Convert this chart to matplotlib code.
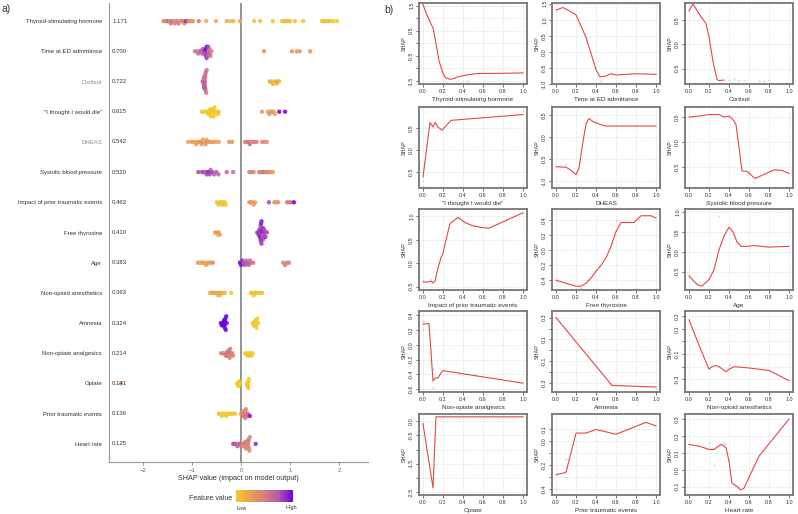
import numpy as np
import matplotlib
matplotlib.use('Agg')
import matplotlib.pyplot as plt
from matplotlib.colors import LinearSegmentedColormap

plt.rcParams['font.family'] = ['Liberation Sans', 'DejaVu Sans']

# ---------------- panel a: beeswarm data ----------------
features = ['Thyroid-stimulating hormone', 'Time at ED admittance', 'Cortisol',
            '"I thought I would die"', 'DHEAS', 'Systolic blood pressure',
            'Impact of prior traumatic events', 'Free thyroxine', 'Age',
            'Non-opioid anesthetics', 'Amnesia', 'Non-opiate analgesics',
            'Opiate', 'Prior traumatic events', 'Heart rate']
mean_abs = ['1.171', '0.700', '0.722', '0.615', '0.542', '0.520', '0.463', '0.410',
            '0.383', '0.363', '0.324', '0.214', '0.141', '0.136', '0.125']

shap_tsh = [-1.58, -1.55, -1.52, -1.49, -1.46, -1.43, -1.40, -1.37, -1.35, -1.32, -1.30,
            -1.27, -1.24, -1.21, -1.18, -1.15, -1.12, -1.09, -1.05, -1.01, -0.98, -0.86,
            -0.71, -0.51, -0.29, -0.22, -0.16, -0.02, 0.27, 0.39, 0.65, 0.84, 0.88, 0.92,
            0.96, 1.00, 1.10, 1.27, 1.65, 1.69, 1.73, 1.77, 1.81, 1.88, 1.96]
fv_tsh = [0.35, 0.5, 0.3, 0.75, 0.4, 0.55, 0.7, 0.35, 0.5, 0.3, 0.45, 0.55, 0.4, 0.35,
          0.5, 0.45, 0.95, 0.6, 0.4, 0.3, 0.35, 0.55, 0.15, 0.2, 0.2, 0.1, 0.15, 0.2, 0.1,
          0.1, 0.05, 0.1, 0.05, 0.1, 0.05, 0.1, 0.05, 0.05, 0.05, 0.1, 0.05, 0.05, 0.1,
          0.05, 0.05]

shap_ted = [-0.94, -0.90, -0.87, -0.84, -0.82, -0.80, -0.78, -0.77, -0.75, -0.74, -0.73,
            -0.72, -0.71, -0.70, -0.70, -0.69, -0.69, -0.68, -0.68, -0.67, -0.66, -0.65,
            -0.64, -0.62, -0.60, 0.47, 1.04, 1.14, 1.20, 1.41]
fv_ted = [0.6, 0.55, 0.65, 0.6, 0.7, 0.55, 0.75, 0.6, 0.8, 0.9, 0.7, 0.95, 0.9, 0.95,
          0.85, 0.95, 0.8, 0.9, 0.7, 0.85, 0.6, 0.7, 0.55, 0.6, 0.5, 0.35, 0.3, 0.35,
          0.3, 0.35]

shap_cort = [-0.78, -0.77, -0.76, -0.76, -0.75, -0.75, -0.75, -0.74, -0.74, -0.74, -0.74,
             -0.73, -0.73, -0.73, -0.72, -0.72, -0.71, -0.70, 0.59, 0.62, 0.65, 0.68,
             0.70, 0.72, 0.75, 0.78]
fv_cort = [0.55, 0.6, 0.7, 0.55, 0.8, 0.6, 0.65, 0.85, 0.6, 0.55, 0.7, 0.6, 0.75, 0.55,
           0.6, 0.65, 0.55, 0.6, 0.3, 0.1, 0.2, 0.05, 0.1, 0.05, 0.3, 0.1]

shap_die = [-0.80, -0.76, -0.72, -0.69, -0.67, -0.65, -0.64, -0.63, -0.62, -0.61, -0.60,
            -0.60, -0.59, -0.58, -0.57, -0.56, -0.55, -0.54, -0.52, -0.50, -0.47, -0.45,
            0.43, 0.55, 0.58, 0.61, 0.64, 0.67, 0.69, 0.78, 0.90]
fv_die = [0.05, 0.02, 0.05, 0.0, 0.05, 0.02, 0.0, 0.05, 0.0, 0.02, 0.0, 0.05, 0.0, 0.02,
          0.0, 0.05, 0.0, 0.02, 0.05, 0.0, 0.05, 0.02, 0.3, 0.3, 0.35, 0.25, 0.3, 0.2,
          0.3, 1.0, 1.0]

shap_dheas = [-1.08, -1.02, -0.98, -0.94, -0.91, -0.88, -0.85, -0.82, -0.80, -0.78, -0.76,
              -0.74, -0.72, -0.70, -0.67, -0.64, -0.60, -0.56, -0.50, -0.45, -0.24, -0.18,
              0.08, 0.12, 0.15, 0.18, 0.20, 0.24, 0.28, 0.32, 0.43, 0.48, 0.53]
fv_dheas = [0.2, 0.15, 0.3, 0.2, 0.35, 0.25, 0.2, 0.4, 0.3, 0.2, 0.35, 0.25, 0.3, 0.2,
            0.35, 0.25, 0.2, 0.3, 0.25, 0.2, 0.35, 0.3, 0.45, 0.5, 0.55, 0.65, 0.5, 0.4,
            0.55, 0.45, 0.4, 0.5, 0.35]

shap_sbp = [-0.87, -0.80, -0.76, -0.73, -0.70, -0.68, -0.66, -0.64, -0.62, -0.60, -0.58,
            -0.55, -0.50, -0.46, -0.29, -0.16, 0.17, 0.21, 0.26, 0.37, 0.41, 0.45, 0.49,
            0.52, 0.56, 0.60, 0.65]
fv_sbp = [0.8, 0.75, 0.85, 0.7, 0.8, 0.75, 0.9, 0.8, 0.7, 0.85, 0.75, 0.7, 0.75, 0.7,
          0.7, 0.65, 0.5, 0.55, 0.45, 0.55, 0.45, 0.6, 0.5, 0.4, 0.45, 0.35, 0.3]

shap_imp = [-0.49, -0.46, -0.43, -0.41, -0.39, -0.37, -0.35, -0.33, -0.31, 0.17, 0.20,
            0.23, 0.26, 0.29, 0.57, 0.68, 0.72, 0.76, 0.94, 0.98, 1.02, 1.08]
fv_imp = [0.05, 0.05, 0.0, 0.05, 0.05, 0.0, 0.05, 0.05, 0.0, 0.3, 0.35, 0.3, 0.25, 0.3,
          0.8, 0.35, 0.3, 0.35, 0.55, 0.5, 0.55, 1.0]

shap_ft4 = [-0.53, -0.50, -0.47, -0.45, -0.43, 0.33, 0.35, 0.36, 0.37, 0.38, 0.38, 0.39,
            0.39, 0.40, 0.40, 0.40, 0.41, 0.41, 0.42, 0.42, 0.43, 0.43, 0.44, 0.44, 0.45,
            0.45, 0.46, 0.47, 0.48, 0.50, 0.53]
fv_ft4 = [0.2, 0.25, 0.15, 0.3, 0.2, 0.75, 0.8, 0.85, 0.75, 0.9, 0.8, 0.85, 0.95, 0.8,
          0.9, 0.75, 0.85, 0.95, 0.8, 0.9, 0.85, 0.8, 0.9, 0.75, 0.85, 0.8, 0.9, 0.75,
          0.8, 0.85, 0.8]

shap_age = [-0.88, -0.84, -0.80, -0.77, -0.74, -0.71, -0.68, -0.65, -0.61, -0.57, -0.02,
            0.00, 0.02, 0.04, 0.06, 0.08, 0.10, 0.12, 0.14, 0.16, 0.18, 0.21, 0.25, 0.86,
            0.90, 0.94, 0.98]
fv_age = [0.3, 0.25, 0.2, 0.3, 0.15, 0.25, 0.3, 0.2, 0.3, 0.35, 1.0, 0.95, 0.85, 0.9,
          0.7, 0.8, 0.6, 0.75, 0.65, 0.7, 0.6, 0.65, 0.55, 0.5, 0.55, 0.5, 0.5]

shap_noa = [-0.63, -0.59, -0.56, -0.53, -0.50, -0.47, -0.45, -0.43, -0.40, -0.37, -0.33,
            -0.20, 0.20, 0.23, 0.26, 0.29, 0.32, 0.35, 0.39, 0.43]
fv_noa = [0.2, 0.1, 0.25, 0.15, 0.2, 0.1, 0.25, 0.15, 0.2, 0.1, 0.15, 0.05, 0.05, 0.05,
          0.0, 0.05, 0.05, 0.0, 0.05, 0.05]

shap_amn = [-0.41, -0.39, -0.37, -0.36, -0.35, -0.34, -0.34, -0.33, -0.33, -0.32, -0.31,
            -0.30, -0.29, 0.24, 0.26, 0.27, 0.28, 0.29, 0.30, 0.30, 0.31, 0.32, 0.33, 0.35]
fv_amn = [1.0, 1.0, 1.0, 1.0, 1.0, 1.0, 1.0, 1.0, 1.0, 1.0, 1.0, 1.0, 1.0,
          0.0, 0.0, 0.0, 0.0, 0.0, 0.0, 0.0, 0.0, 0.0, 0.0, 0.0]

shap_noan = [-0.41, -0.37, -0.34, -0.31, -0.29, -0.28, -0.27, -0.26, -0.25, -0.24, -0.23,
             -0.22, -0.21, -0.20, -0.18, -0.16, 0.08, 0.11, 0.13, 0.15, 0.17, 0.19, 0.21,
             0.24]
fv_noan = [0.4, 0.5, 0.45, 0.55, 0.5, 0.6, 0.45, 0.55, 0.5, 0.6, 0.45, 0.5, 0.55, 0.4,
           0.5, 0.45, 0.05, 0.0, 0.05, 0.0, 0.05, 0.0, 0.05, 0.0]

shap_opi = [-2.45, -0.08, -0.06, -0.05, -0.04, -0.03, -0.02, 0.12, 0.13, 0.14, 0.14,
            0.15, 0.15, 0.16]
fv_opi = [0.25, 0.05, 0.0, 0.05, 0.0, 0.05, 0.0, 0.0, 0.05, 0.0, 0.05, 0.0, 0.05, 0.0]

shap_pte = [-0.45, -0.42, -0.39, -0.36, -0.33, -0.30, -0.27, -0.24, -0.20, -0.16, -0.12,
            0.00, 0.02, 0.03, 0.04, 0.05, 0.06, 0.07, 0.08, 0.09, 0.10, 0.11, 0.12, 0.14,
            0.18]
fv_pte = [0.05, 0.0, 0.05, 0.05, 0.0, 0.05, 0.0, 0.05, 0.05, 0.0, 0.05, 0.35, 0.45,
          0.4, 0.5, 0.35, 0.45, 0.55, 0.4, 0.5, 0.45, 0.4, 0.5, 0.6, 0.95]

shap_hr = [-0.16, -0.13, -0.10, -0.07, -0.04, -0.02, 0.02, 0.04, 0.06, 0.08, 0.09, 0.10,
           0.11, 0.12, 0.13, 0.14, 0.15, 0.15, 0.16, 0.16, 0.17, 0.18, 0.30]
fv_hr = [0.7, 0.8, 0.65, 0.75, 0.6, 0.7, 0.5, 0.45, 0.55, 0.4, 0.5, 0.45, 0.55, 0.4,
         0.5, 0.45, 0.4, 0.5, 0.45, 0.55, 0.4, 0.45, 0.9]

shap_rows = [shap_tsh, shap_ted, shap_cort, shap_die, shap_dheas, shap_sbp, shap_imp,
             shap_ft4, shap_age, shap_noa, shap_amn, shap_noan, shap_opi, shap_pte, shap_hr]
fv_rows = [fv_tsh, fv_ted, fv_cort, fv_die, fv_dheas, fv_sbp, fv_imp, fv_ft4, fv_age,
           fv_noa, fv_amn, fv_noan, fv_opi, fv_pte, fv_hr]

# ---------------- panel b: dependence curves ----------------
dep_names = ['Thyroid-stimulating hormone', 'Time at ED admittance', 'Cortisol',
             '"I thought I would die"', 'DHEAS', 'Systolic blood pressure',
             'Impact of prior traumatic events', 'Free thyroxine', 'Age',
             'Non-opiate analgesics', 'Amnesia', 'Non-opioid anesthetics',
             'Opiate', 'Prior traumatic events', 'Heart rate']

x_tsh = [0.0, 0.03, 0.06, 0.1, 0.13, 0.16, 0.2, 0.23, 0.27, 0.31, 0.35, 0.45, 0.55, 0.7, 1.0]
y_tsh = [1.55, 1.2, 0.95, 0.6, 0.0, -0.7, -1.2, -1.38, -1.43, -1.4, -1.33, -1.25, -1.2, -1.2, -1.18]
x_ted = [0.0, 0.07, 0.13, 0.2, 0.25, 0.3, 0.35, 0.4, 0.44, 0.5, 0.55, 0.6, 0.8, 1.0]
y_ted = [1.3, 1.38, 1.28, 1.15, 0.8, 0.45, -0.05, -0.55, -0.78, -0.75, -0.68, -0.72, -0.68, -0.7]
x_cort = [0.0, 0.04, 0.1, 0.17, 0.2, 0.24, 0.28, 0.3, 0.35]
y_cort = [0.68, 0.82, 0.62, 0.42, 0.15, -0.35, -0.72, -0.74, -0.73]
x_die = [0.0, 0.07, 0.1, 0.12, 0.15, 0.19, 0.28, 1.0]
y_die = [-0.6, 0.62, 0.52, 0.62, 0.52, 0.45, 0.67, 0.8]
x_dheas = [0.0, 0.1, 0.15, 0.2, 0.23, 0.27, 0.3, 0.33, 0.37, 0.45, 0.5, 1.0]
y_dheas = [-0.67, -0.68, -0.75, -0.85, -0.7, -0.1, 0.3, 0.42, 0.35, 0.28, 0.25, 0.25]
x_sbp = [0.0, 0.1, 0.2, 0.3, 0.35, 0.4, 0.44, 0.47, 0.5, 0.53, 0.58, 0.62, 0.66, 0.75, 0.85, 0.93, 1.0]
y_sbp = [0.5, 0.52, 0.55, 0.55, 0.5, 0.52, 0.45, 0.35, -0.1, -0.57, -0.58, -0.65, -0.72, -0.64, -0.55, -0.56, -0.62]
x_imp = [0.0, 0.05, 0.08, 0.1, 0.12, 0.15, 0.18, 0.2, 0.23, 0.27, 0.35, 0.42, 0.5, 0.6, 0.66, 1.0]
y_imp = [-0.4, -0.4, -0.38, -0.42, -0.38, -0.1, 0.12, 0.22, 0.5, 0.85, 0.98, 0.87, 0.8, 0.76, 0.75, 1.08]
x_ft4 = [0.0, 0.1, 0.2, 0.25, 0.3, 0.35, 0.4, 0.45, 0.5, 0.55, 0.6, 0.65, 0.78, 0.85, 0.95, 1.0]
y_ft4 = [-0.4, -0.44, -0.48, -0.48, -0.44, -0.37, -0.28, -0.2, -0.1, 0.05, 0.25, 0.37, 0.37, 0.46, 0.46, 0.43]
x_age = [0.0, 0.05, 0.1, 0.13, 0.2, 0.25, 0.3, 0.35, 0.4, 0.44, 0.48, 0.52, 0.6, 0.65, 0.8, 1.0]
y_age = [-0.6, -0.75, -0.85, -0.86, -0.7, -0.45, 0.05, 0.4, 0.62, 0.5, 0.25, 0.14, 0.14, 0.16, 0.12, 0.14]
x_noan = [0.0, 0.06, 0.08, 0.1, 0.12, 0.15, 0.18, 0.2, 1.0]
y_noan = [0.28, 0.29, -0.1, -0.49, -0.45, -0.45, -0.38, -0.35, -0.52]
x_amn = [0.0, 0.56, 1.0]
y_amn = [0.3, -0.32, -0.335]
x_noa = [0.0, 0.1, 0.2, 0.23, 0.27, 0.3, 0.37, 0.4, 0.45, 0.6, 0.8, 1.0]
y_noa = [0.17, -0.03, -0.22, -0.2, -0.19, -0.2, -0.24, -0.22, -0.2, -0.21, -0.23, -0.31]
x_opi = [0.0, 0.1, 0.13, 1.0]
y_opi = [-0.1, -2.35, 0.15, 0.15]
x_pte = [0.0, 0.1, 0.2, 0.3, 0.4, 0.6, 0.9, 1.0]
y_pte = [-0.28, -0.26, 0.07, 0.07, 0.1, 0.06, 0.16, 0.13]
x_hr = [0.0, 0.1, 0.2, 0.25, 0.32, 0.35, 0.37, 0.4, 0.43, 0.48, 0.52, 0.55, 0.62, 0.7, 1.0]
y_hr = [0.15, 0.14, 0.12, 0.12, 0.15, 0.14, 0.13, 0.05, -0.08, -0.1, -0.12, -0.11, -0.02, 0.08, 0.3]

dep_x = [x_tsh, x_ted, x_cort, x_die, x_dheas, x_sbp, x_imp, x_ft4, x_age,
         x_noan, x_amn, x_noa, x_opi, x_pte, x_hr]
dep_y = [y_tsh, y_ted, y_cort, y_die, y_dheas, y_sbp, y_imp, y_ft4, y_age,
         y_noan, y_amn, y_noa, y_opi, y_pte, y_hr]

# faint observed points seen around the curves
pts_x = [[0.05, 0.2, 0.45], [0.3, 0.45], [0.4, 0.45, 0.5, 0.55, 0.7, 0.75, 0.8],
         [0.0, 0.0, 1.0], [0.1, 0.3], [0.6, 0.65], [0.0, 0.07], [0.25, 0.6], [0.3],
         [0.0, 0.0, 0.1, 0.1], [0.0, 1.0], [0.0, 0.4], [0.0],
         [0.0, 0.1, 0.1, 0.3], [0.2, 0.25, 0.35, 0.36]]
pts_y = [[0.9, -1.3, -1.5], [0.3, -0.9], [-0.72, -0.71, -0.72, -0.72, -0.74, -0.74, -0.73],
         [-0.7, -0.8, 0.88], [-0.6, 0.35], [-0.6, -0.8], [-0.35, -0.33], [-0.5, 0.4], [0.9],
         [0.22, 0.32, -0.58, -0.33], [0.3, -0.35], [0.15, -0.19], [-0.05],
         [-0.4, -0.3, -0.15, 0.08], [0.16, 0.03, 0.16, 0.15]]

dep_ylims = [(-1.62, 1.6), (-0.98, 1.52), (-0.81, 0.84), (-0.85, 0.97), (-1.15, 0.68),
             (-0.91, 0.7), (-0.57, 1.16), (-0.53, 0.55), (-0.96, 1.08), (-0.64, 0.46),
             (-0.38, 0.36), (-0.40, 0.24), (-2.6, 0.25), (-0.45, 0.23), (-0.15, 0.33)]
dep_yticks = [[-1.5, -1, -0.5, 0, 0.5, 1, 1.5], [-1, -0.5, 0, 0.5, 1, 1.5], [-0.5, 0, 0.5],
              [-0.5, 0, 0.5], [-1, -0.5, 0, 0.5], [-0.5, 0, 0.5], [-0.5, 0, 0.5, 1.0],
              [-0.4, -0.2, 0, 0.2, 0.4], [-0.5, 0, 0.5, 1.0],
              [-0.6, -0.4, -0.2, 0, 0.2, 0.4], [-0.3, -0.2, -0.1, 0, 0.1, 0.2, 0.3],
              [-0.3, -0.2, -0.1, 0, 0.1, 0.2], [-2.5, -2, -1.5, -1, -0.5, 0],
              [-0.4, -0.3, -0.2, -0.1, 0, 0.1], [-0.1, 0, 0.1, 0.2, 0.3]]
dep_ylabels = [['-1.5', '', '-0.5', '', '0.5', '', '1.5'],
               ['-1.0', '-0.5', '0.0', '0.5', '1.0', '1.5'],
               ['-0.5', '0.0', '0.5'], ['-0.5', '0.0', '0.5'],
               ['-1.0', '-0.5', '0.0', '0.5'], ['-0.5', '0.0', '0.5'],
               ['-0.5', '0.0', '0.5', '1.0'], ['-0.4', '-0.2', '0.0', '0.2', '0.4'],
               ['-0.5', '0.0', '0.5', '1.0'], ['-0.6', '-0.4', '-0.2', '0.0', '0.2', '0.4'],
               ['-0.3', '', '-0.1', '', '0.1', '', '0.3'],
               ['-0.3', '', '-0.1', '', '0.1', '0.2'],
               ['-2.5', '', '-1.5', '', '-0.5', '0.0'],
               ['-0.4', '', '-0.2', '', '0.0', '0.1'],
               ['-0.1', '0.0', '0.1', '0.2', '0.3']]

# ---------------- figure ----------------
fig = plt.figure(figsize=(7.98, 5.14), dpi=100)
W, H = 798.0, 514.0

cmap = LinearSegmentedColormap.from_list(
    'fv', ['#F3CB2C', '#E99E58', '#D8807C', '#B45AAE', '#6A00E0'])


def swarm(vals, bw=0.04, step=0.075):
    vals = np.asarray(vals)
    q = np.round(vals / bw)
    order = np.argsort(q, kind='stable')
    ys = np.zeros(len(vals))
    layer, last = 0, None
    for i in order:
        if q[i] != last:
            layer = 0
        ys[i] = np.ceil(layer / 2) * (1 if layer % 2 else -1)
        layer += 1
        last = q[i]
    return ys * step


ax = fig.add_axes([109 / W, 1 - 462 / H, (368 - 109) / W, (462 - 3) / H])
ax.axvline(0, color='#777777', lw=1.1, zorder=1)
for i, (sv, fv) in enumerate(zip(shap_rows, fv_rows)):
    off = swarm(sv)
    ax.scatter(sv, i + off, c=fv, cmap=cmap, vmin=0, vmax=1, s=10, lw=0,
               alpha=0.85, zorder=3)
    ax.text(0.012, i, mean_abs[i], transform=ax.get_yaxis_transform(),
            fontsize=4.3, color='#333333', va='center', ha='left')

ax.set_xlim(-2.69, 2.59)
ax.set_ylim(14.6, -0.6)
ax.set_yticks(range(len(features)))
ax.set_yticklabels(features, fontsize=4.3)
for lab, name in zip(ax.get_yticklabels(), features):
    lab.set_color('#8a8a8a' if name in ('Cortisol', 'DHEAS') else '#333333')
ax.tick_params(axis='y', length=0, pad=5)
ax.set_xticks([-2, -1, 0, 1, 2])
ax.set_xticklabels(['\u22122', '\u22121', '0', '1', '2'])
ax.tick_params(axis='x', labelsize=4.3, colors='#666666', length=2, width=0.5, pad=2)
ax.set_xlabel('SHAP value (impact on model output)', fontsize=5.2, color='#333333', labelpad=2)
for s in ['top', 'right']:
    ax.spines[s].set_visible(False)
ax.spines['left'].set_color('#999999')
ax.spines['bottom'].set_color('#999999')
ax.spines['left'].set_linewidth(0.8)
ax.spines['bottom'].set_linewidth(0.8)

# colorbar
cax = fig.add_axes([236 / W, 1 - 502 / H, 57 / W, 12 / H])
cax.imshow(np.linspace(0, 1, 256)[None, :], aspect='auto', cmap=cmap)
cax.set_axis_off()
fig.text(232 / W, 1 - 499 / H, 'Feature value', fontsize=5, ha='right', va='center',
         color='#333333')
fig.text(242 / W, 1 - 508 / H, 'Low', fontsize=4, ha='center', va='center', color='#333333')
fig.text(291 / W, 1 - 508 / H, 'High', fontsize=4, ha='center', va='center', color='#333333')

fig.text(2 / W, 1 - 9 / H, 'a)', fontsize=7.5, ha='left', va='center', color='#333333')
fig.text(384 / W, 1 - 10 / H, 'b)', fontsize=7.5, ha='left', va='center', color='#333333')

# dependence panels
col_left = [419, 552, 685]
row_top = [3, 107, 209, 311, 414]
for k in range(15):
    r, c = divmod(k, 3)
    a = fig.add_axes([col_left[c] / W, 1 - (row_top[r] + 81) / H, 108 / W, 81 / H])
    a.grid(True, color='#cccccc', lw=0.5, ls=':')
    a.set_axisbelow(True)
    a.scatter(pts_x[k], pts_y[k], s=2, color='#9fa8f0', alpha=0.5, lw=0)
    a.plot(dep_x[k], dep_y[k], color='#e04848', lw=0.8)
    a.set_xlim(-0.04, 1.04)
    a.set_ylim(*dep_ylims[k])
    a.set_xticks([0, 0.2, 0.4, 0.6, 0.8, 1.0])
    a.set_xticklabels(['0.0', '0.2', '0.4', '0.6', '0.8', '1.0'])
    a.set_yticks(dep_yticks[k])
    a.set_yticklabels(dep_ylabels[k], rotation=90, va='center')
    a.tick_params(labelsize=3.9, length=2, width=0.5, pad=1.5, colors='#333333')
    a.set_ylabel('SHAP', fontsize=3.9, labelpad=2, color='#333333')
    a.set_xlabel(dep_names[k], fontsize=4.6, labelpad=2, color='#333333')
    for s in a.spines.values():
        s.set_color('#777777')
        s.set_linewidth(1.3)

fig.savefig('out.png', dpi=100)
